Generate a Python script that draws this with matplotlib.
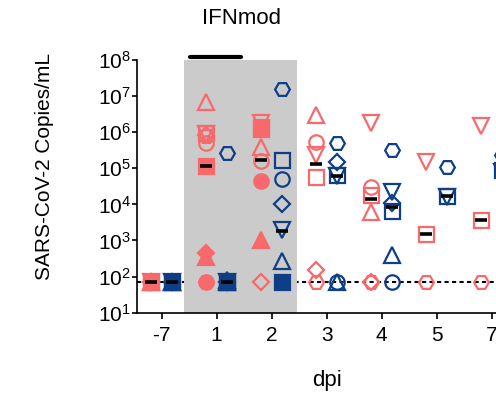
import numpy as np
import matplotlib
matplotlib.use("Agg")
import matplotlib.pyplot as plt

plt.rcParams['font.family'] = ['Liberation Sans', 'DejaVu Sans']
plt.rcParams['mathtext.fontset'] = 'custom'
plt.rcParams['mathtext.rm'] = 'Liberation Sans'
plt.rcParams['mathtext.default'] = 'regular'

# days post infection (categorical x positions)
days = ['-7', '1', '2', '3', '4', '5', '7']
lod = 1.84  # log10 limit of detection
nan = np.nan

# log10 copies/mL per animal, one value per day
pink_open = {
    '^': [lod, 6.84, 5.59, 6.47, 3.80, nan, nan],
    's': [lod, 5.99, 6.10, 4.76, 4.25, 3.17, 3.57],
    'v': [lod, 5.95, 6.25, 5.36, 6.26, 5.18, 6.17],
    'o': [lod, 5.69, 5.19, 5.73, 4.48, nan, nan],
    'D': [lod, 5.92, lod, 2.17, lod, nan, nan],
    'H': [lod, 5.90, nan, lod, lod, lod, lod],
}
pink_filled = {
    'o': [lod, lod, 4.65, nan, nan, nan, nan],
    'H': [lod, lod, nan, nan, nan, nan, nan],
    'D': [lod, 2.65, nan, nan, nan, nan, nan],
    '^': [lod, 2.54, 3.02, nan, nan, nan, nan],
    's': [lod, 5.06, 6.15, nan, nan, nan, nan],
}
blue_open = {
    'H': [lod, 5.43, 7.21, 5.69, 5.52, 5.04, 5.36],
    's': [lod, lod, 5.22, 4.81, 3.83, 4.22, 4.95],
    'o': [lod, lod, 4.69, lod, lod, nan, nan],
    'D': [lod, lod, 4.02, 5.18, 4.05, nan, nan],
    'v': [lod, lod, 3.30, 4.79, 4.34, 4.20, 4.90],
    '^': [lod, lod, 2.44, lod, 2.61, nan, nan],
}
blue_filled = {
    '^': [lod, 1.90, nan, nan, nan, nan, nan],
    's': [lod, lod, lod, nan, nan, nan, nan],
}
pink_median = [lod, 5.06, 5.22, 5.11, 4.14, 3.17, 3.57]
blue_median = [lod, lod, 3.26, 4.80, 3.94, 4.23, 4.90]

pink = '#F8696B'
blue = '#0E3F86'
sizes = {'^': 11.5, 'v': 11.5, 's': 10.8, 'o': 10.4, 'H': 10.6, 'D': 8.2}

fig = plt.figure(figsize=(4.96, 3.96), dpi=100)
W, H = 496, 396
left, right, top, bottom = 137.3, 515.9, 60, 312.7
ax = fig.add_axes([left / W, 1 - bottom / H, (right - left) / W, (bottom - top) / H])

x = np.arange(len(days))
offset = 0.19

ax.axhline(10 ** lod, color='k', lw=1.5, dashes=(2, 1.6), zorder=1)
ax.axvspan(0.41, 2.47, color='#CBCBCB', lw=0, zorder=1.5)

def draw(group, color, dx, filled):
    for m, vals in group.items():
        v = np.array(vals)
        ax.plot(x + dx, 10 ** v, ls='none', marker=m, ms=sizes[m],
                mec=color, mfc=color if filled else 'none', mew=1.6, zorder=3)

draw(pink_open, pink, -offset, False)
draw(pink_filled, pink, -offset, True)
draw(blue_open, blue, offset, False)
draw(blue_filled, blue, offset, True)

for med, dx in [(pink_median, -offset), (blue_median, offset)]:
    ax.hlines(10 ** np.array(med), x + dx - 0.11, x + dx + 0.11,
              color='k', lw=2.6, zorder=4)

# treatment bar above the plot
ax.plot([0.51, 1.45], [10 ** 8.07] * 2, color='k', lw=3, clip_on=False,
        solid_capstyle='round', zorder=5)
fig.text(242 / W, 1 - 18 / H, 'IFNmod', ha='center', va='center', fontsize=16)

ax.set_yscale('log')
ax.set_ylim(10, 1e8)
ax.set_xlim(-0.44, 6.44)
ax.set_yticks([10 ** k for k in range(1, 9)])
ax.set_yticklabels([r'$10^{%d}$' % k for k in range(1, 9)])
ax.minorticks_off()
ax.set_xticks(x)
ax.set_xticklabels(days)
ax.tick_params(axis='y', length=3.6, width=1.2, pad=1, labelsize=15)
ax.tick_params(axis='x', length=4.3, width=1.2, pad=5, labelsize=15)

for s in ['top', 'right']:
    ax.spines[s].set_visible(False)
for s in ['left', 'bottom']:
    ax.spines[s].set_linewidth(1.2)

ax.set_xlabel('dpi', fontsize=16, labelpad=18)
fig.text(45 / W, 1 - 167 / H, 'SARS-CoV-2 Copies/mL', rotation=90,
         ha='center', va='center', fontsize=15)

fig.savefig('out.png', dpi=100)
